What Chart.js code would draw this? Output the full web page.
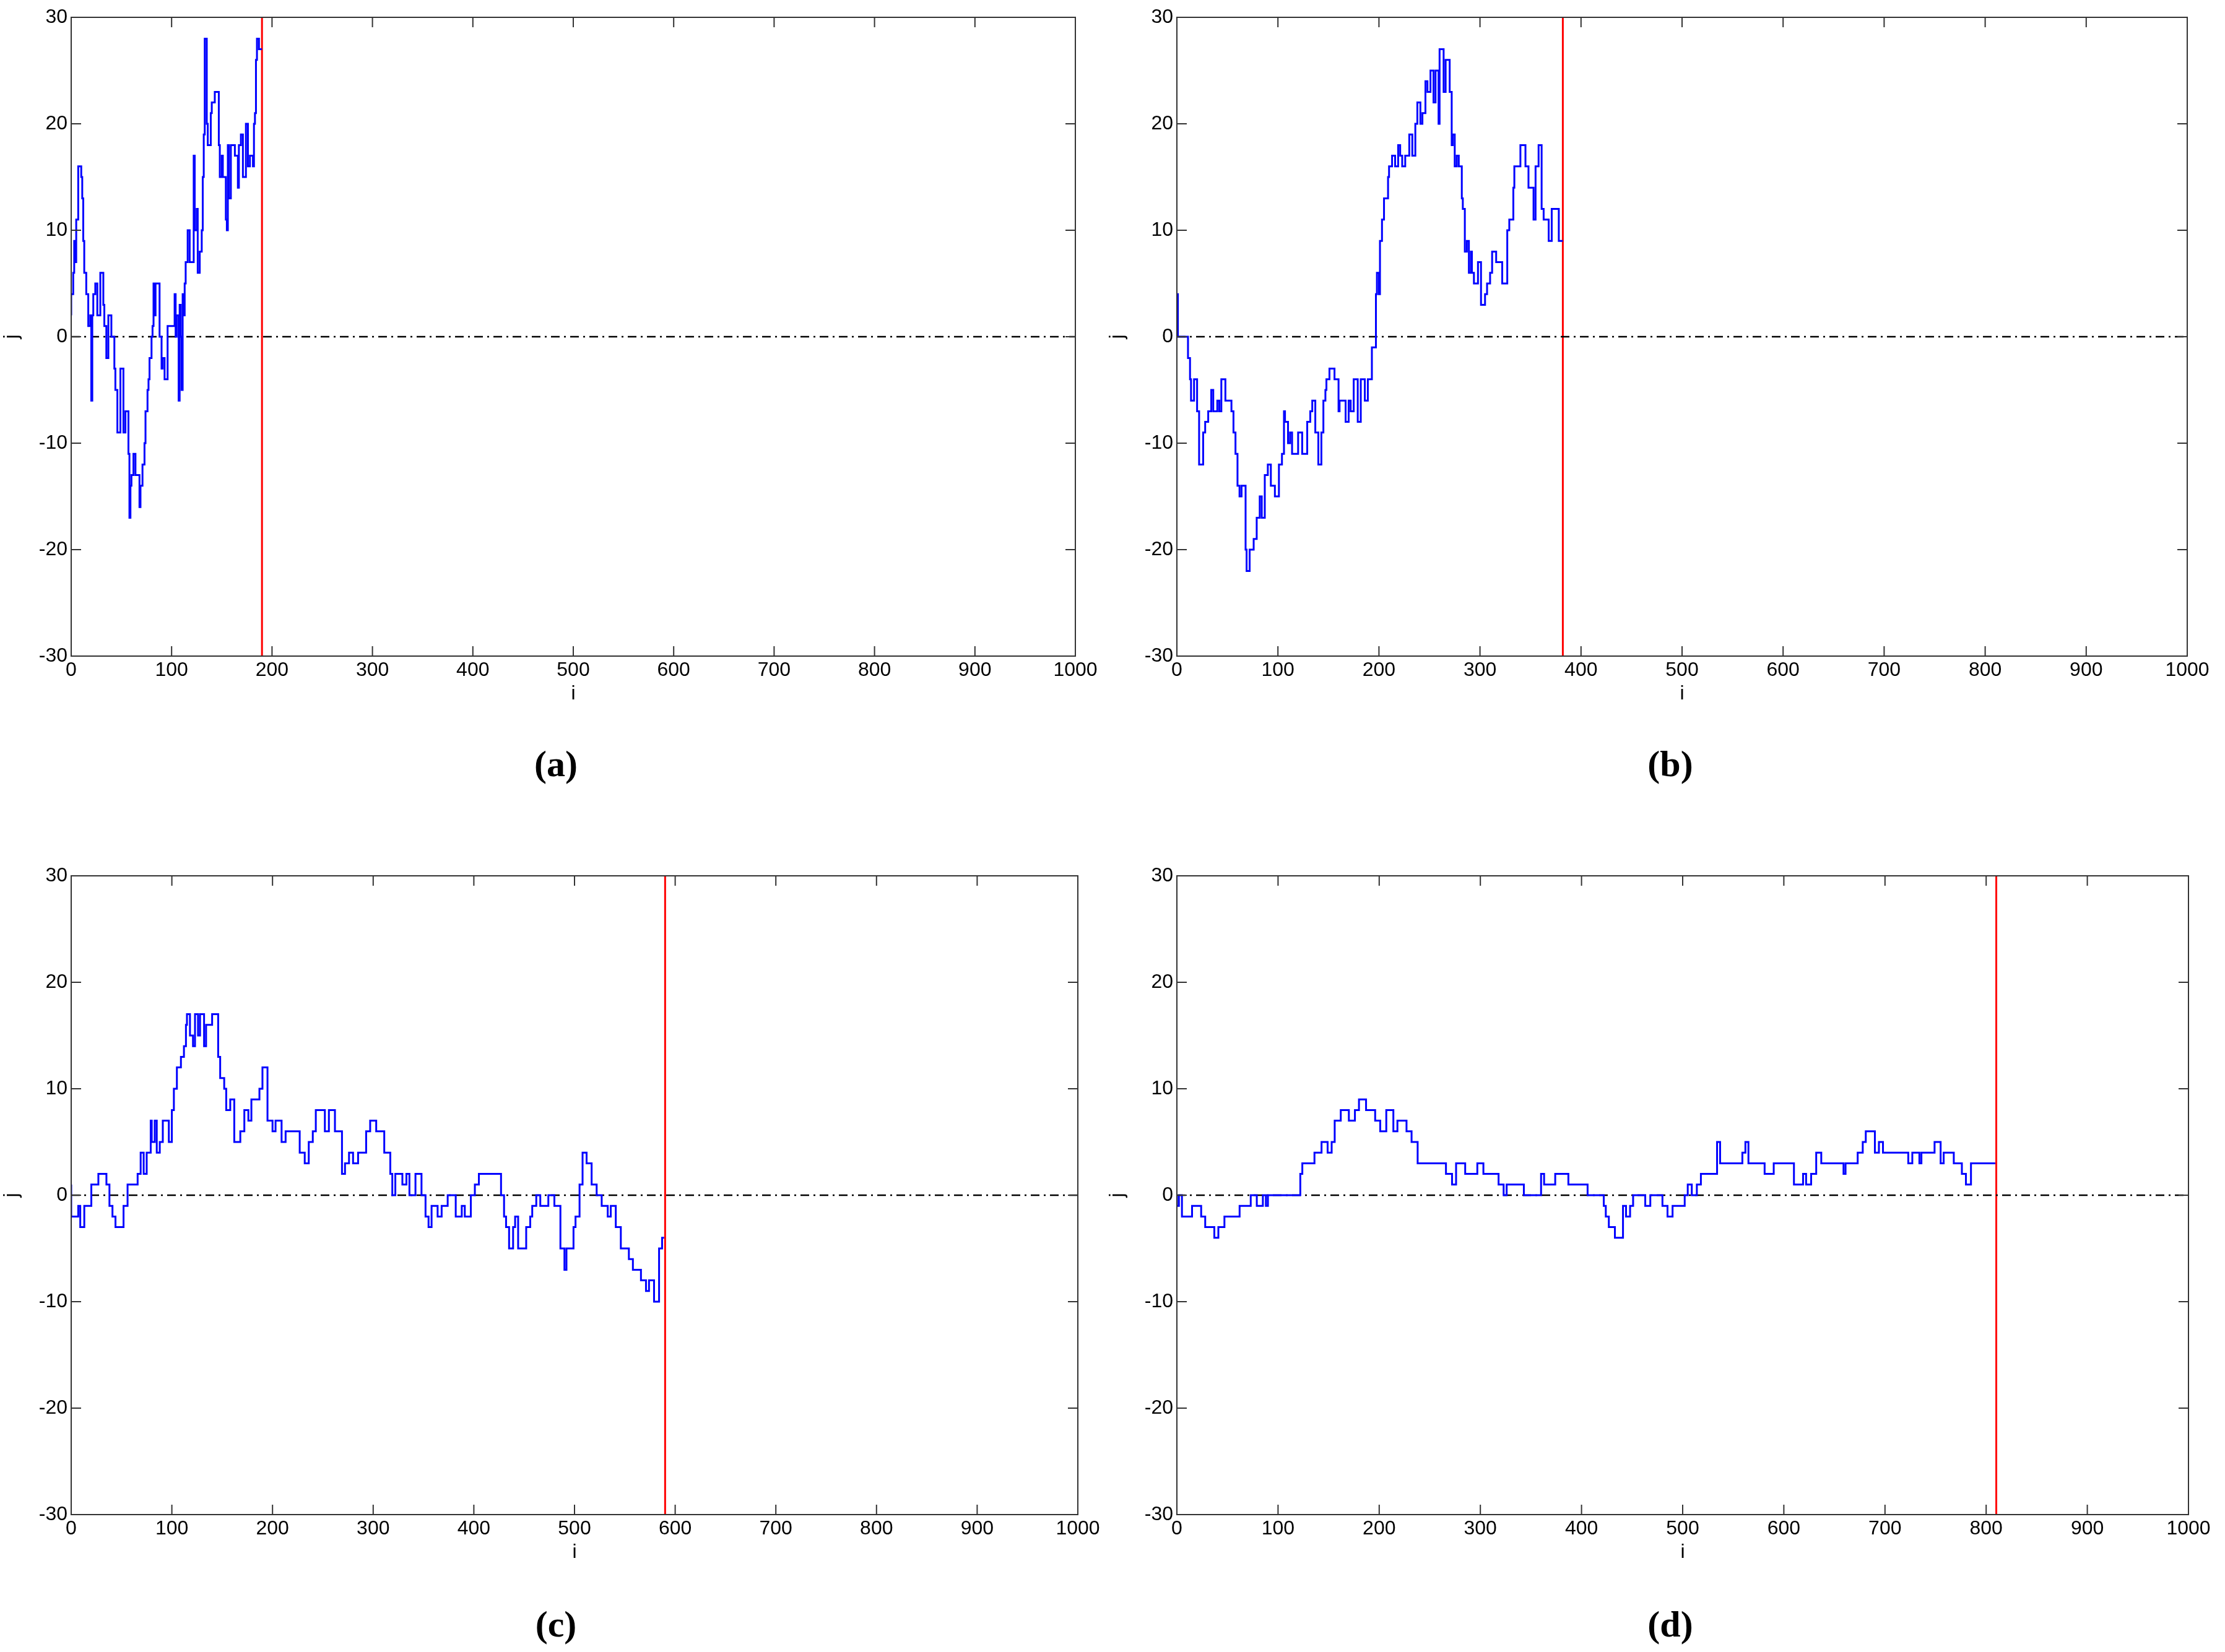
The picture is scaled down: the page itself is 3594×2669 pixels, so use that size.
<!DOCTYPE html>
<html>
<head>
<meta charset="utf-8">
<script src="https://cdn.jsdelivr.net/npm/chart.js@4/dist/chart.umd.min.js"></script>
<style>
  body { margin: 0; background: #fff; width: 3594px; height: 2669px; position: relative; overflow: hidden; }
  .panel { position: absolute; width: 1800px; height: 1140px; }
  .cap { position: absolute; font-family: "Liberation Serif", "DejaVu Serif", serif; font-weight: bold; font-size: 60px; transform: translateX(-50%); }
</style>
</head>
<body>
<div class="panel" style="left:0;top:0"><canvas id="ca"></canvas></div>
<div class="panel" style="left:1786px;top:0"><canvas id="cb"></canvas></div>
<div class="panel" style="left:0;top:1387px"><canvas id="cc"></canvas></div>
<div class="panel" style="left:1786px;top:1387px"><canvas id="cd"></canvas></div>
<div class="cap" style="left:898px;top:1200px">(a)</div>
<div class="cap" style="left:2698px;top:1200px">(b)</div>
<div class="cap" style="left:898px;top:2590px">(c)</div>
<div class="cap" style="left:2698px;top:2590px">(d)</div>
<script>
// tick labels
const xTicks = [0, 100, 200, 300, 400, 500, 600, 700, 800, 900, 1000];
const yTicks = [-30, -20, -10, 0, 10, 20, 30];

// red stop position per panel
const stopI = [190, 382, 590, 810];

// walk (a)
const aI = [0,2,3,4,5,7,10,11,12,13,15,17,19,20,21,22,24,26,29,32,33,35,37,40,43,44,46,49,52,54,57,58,59,60,62,64,68,69,71,73,74,76,77,78,80,81,82,83,84,88,90,91,93,96,103,104,105,107,108,109,110,111,112,113,114,116,118,122,123,125,126,128,130,131,132,133,135,136,139,140,143,147,148,150,151,154,155,156,157,159,163,166,167,169,171,174,176,178,181,182,183,184,185,187,189,190];
const aJ = [2,4,6,9,7,11,16,15,13,9,6,4,1,2,-6,2,4,5,2,6,3,1,-2,2,0,-3,-5,-9,-3,-9,-7,-11,-17,-14,-13,-11,-13,-16,-14,-12,-10,-7,-5,-4,-2,0,1,5,2,5,0,-3,-2,-4,1,4,0,2,-6,3,0,-5,4,2,5,7,10,7,17,10,12,6,8,10,15,19,28,20,18,21,22,23,18,15,17,15,11,10,18,13,18,17,14,18,19,15,20,16,17,16,20,21,26,28,27,27];

// walk (b)
const bI = [0,1,11,13,14,17,20,22,26,28,31,34,36,40,42,44,48,54,56,58,60,62,64,68,69,72,76,79,82,84,87,90,93,97,101,104,106,107,110,112,114,120,124,129,132,134,137,140,143,145,147,148,151,156,160,161,167,170,172,175,179,182,186,189,193,197,198,200,201,203,205,209,210,213,216,219,221,223,226,230,233,236,238,241,243,246,248,251,254,256,259,260,264,266,270,272,273,275,277,279,282,283,285,287,289,291,292,294,298,301,305,307,310,312,316,322,327,329,333,334,340,345,348,353,355,358,361,363,368,371,378,381,382];
const bJ = [2,4,0,-2,-4,-6,-4,-7,-12,-9,-8,-7,-5,-7,-6,-7,-4,-6,-7,-9,-11,-14,-15,-14,-20,-22,-20,-19,-17,-15,-17,-13,-12,-14,-15,-12,-11,-7,-8,-10,-9,-11,-9,-11,-8,-7,-6,-9,-12,-9,-6,-5,-4,-3,-4,-7,-6,-8,-6,-7,-4,-8,-4,-6,-4,-1,4,6,4,9,11,13,15,16,17,16,18,17,16,17,19,17,20,22,20,21,24,23,25,22,25,20,27,23,26,23,18,19,16,17,16,13,12,8,9,6,8,6,5,7,3,4,5,6,8,7,5,10,11,14,16,18,16,14,11,16,18,12,11,9,12,9,9];

// walk (c)
const cI = [0,7,9,13,20,27,35,38,41,44,52,56,66,69,72,75,79,80,83,85,88,91,97,100,102,105,109,112,114,115,118,121,123,126,128,132,134,140,146,148,152,154,158,162,168,172,176,179,187,190,195,200,203,209,213,227,232,236,240,243,252,256,262,269,272,276,280,285,293,297,303,311,317,319,322,329,333,336,342,348,352,355,358,364,368,374,382,388,391,397,401,405,427,430,432,435,439,441,444,452,456,458,462,466,474,480,486,490,492,499,501,505,508,512,517,522,527,533,536,541,546,554,558,566,571,574,579,584,587,589];
const cJ = [1,-2,-1,-3,-1,1,2,1,-1,-2,-3,-1,1,2,4,2,4,7,5,7,4,5,7,5,8,10,12,13,14,16,17,15,14,17,15,17,14,16,17,13,11,10,8,9,5,6,8,7,9,10,12,7,6,7,5,6,4,3,5,6,8,6,8,6,2,3,4,3,4,6,7,6,4,2,0,2,1,2,0,2,0,-2,-3,-1,-2,-1,0,-2,-1,-2,0,1,2,0,-2,-3,-5,-3,-2,-5,-3,-2,-1,0,-1,0,-1,-5,-7,-5,-3,-2,1,4,3,1,0,-1,-2,-1,-3,-5,-6,-7,-8,-9,-8,-10,-5,-4];

// walk (d)
const dI = [0,2,5,15,24,28,37,41,47,62,73,79,85,88,90,122,124,136,143,149,153,156,162,170,176,180,187,196,201,207,214,218,227,232,238,266,272,276,285,297,303,318,323,326,343,360,363,374,387,406,422,424,427,433,441,444,448,451,463,468,480,485,490,502,505,509,514,518,534,537,559,562,565,581,590,610,619,622,627,632,637,659,661,673,678,681,690,694,698,723,727,734,736,749,755,758,768,776,780,785,809];
const dJ = [0,-1,0,-2,-1,-2,-3,-4,-3,-2,-1,0,-1,0,-1,0,2,3,4,5,4,5,7,8,7,8,9,8,7,6,8,6,7,6,5,3,2,1,3,2,3,2,1,0,1,0,2,1,2,1,0,-1,-2,-3,-4,-1,-2,-1,0,-1,0,-1,-2,-1,0,1,0,1,2,5,3,4,5,3,2,3,1,2,1,2,4,3,2,3,4,5,6,4,5,4,3,4,3,4,5,3,4,3,2,1,3];

const FONT = "'Liberation Sans', Arial, sans-serif";

const boxTicks = {
    id: 'boxTicks',
    afterDraw(chart) {
        const { ctx, chartArea: a, scales: { x, y } } = chart;
        ctx.save();
        ctx.strokeStyle = '#333';
        ctx.lineWidth = 2;
        ctx.strokeRect(a.left, a.top, a.right - a.left, a.bottom - a.top);
        const L = 16;
        ctx.beginPath();
        xTicks.forEach(v => {
            const px = x.getPixelForValue(v);
            ctx.moveTo(px, a.bottom); ctx.lineTo(px, a.bottom - L);
            ctx.moveTo(px, a.top); ctx.lineTo(px, a.top + L);
        });
        yTicks.forEach(v => {
            const py = y.getPixelForValue(v);
            ctx.moveTo(a.left, py); ctx.lineTo(a.left + L, py);
            ctx.moveTo(a.right, py); ctx.lineTo(a.right - L, py);
        });
        ctx.stroke();
        ctx.restore();
    }
};

function toPts(xs, ys) {
    return xs.map((v, k) => ({ x: v, y: ys[k] }));
}

function makePanel(id, xs, ys, stop, rightPad) {
    new Chart(document.getElementById(id), {
        type: 'scatter',
        data: {
            datasets: [
                { data: toPts(xs, ys), showLine: true, stepped: 'after', borderColor: '#0000ff', borderWidth: 3, pointRadius: 0 },
                { data: toPts([0, 1000], [0, 0]), showLine: true, borderColor: '#000', borderWidth: 2.5, borderDash: [14, 7, 3, 7], pointRadius: 0 },
                { data: toPts([stop, stop], [-30, 30]), showLine: true, borderColor: '#ff0000', borderWidth: 3, pointRadius: 0 }
            ]
        },
        options: {
            responsive: true,
            maintainAspectRatio: false,
            animation: false,
            layout: { padding: { top: 28, right: rightPad, left: 0, bottom: 0 } },
            plugins: { legend: { display: false }, tooltip: { enabled: false } },
            scales: {
                x: {
                    type: 'linear', min: 0, max: 1000,
                    afterBuildTicks: s => { s.ticks = xTicks.map(v => ({ value: v })); },
                    afterFit: s => { s.height = 80; },
                    grid: { display: false, drawTicks: false },
                    border: { display: false },
                    ticks: { color: '#000', font: { family: FONT, size: 32 }, padding: 4, maxRotation: 0, callback: v => String(v) },
                    title: { display: true, text: 'i', color: '#000', font: { family: FONT, size: 32 }, padding: 0 }
                },
                y: {
                    type: 'linear', min: -30, max: 30,
                    afterBuildTicks: s => { s.ticks = yTicks.map(v => ({ value: v })); },
                    afterFit: s => { s.width = 115; },
                    grid: { display: false, drawTicks: false },
                    border: { display: false },
                    ticks: { color: '#000', font: { family: FONT, size: 32 }, padding: 6 },
                    title: { display: true, text: 'j', color: '#000', font: { family: FONT, size: 32 }, padding: 0 }
                }
            }
        },
        plugins: [boxTicks]
    });
}

makePanel('ca', aI, aJ, stopI[0], 63);
makePanel('cb', bI, bJ, stopI[1], 53);
makePanel('cc', cI, cJ, stopI[2], 59);
makePanel('cd', dI, dJ, stopI[3], 51);
</script>
</body>
</html>
